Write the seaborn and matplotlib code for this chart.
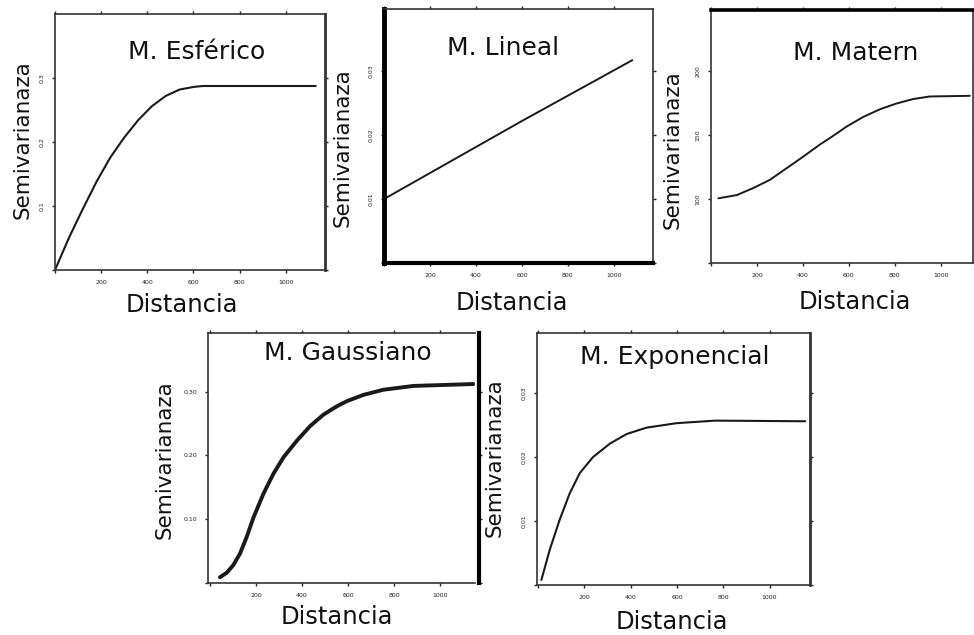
import matplotlib
matplotlib.use("Agg")
import matplotlib.pyplot as plt
import seaborn as sns
import pandas as pd

sns.set_theme(style="ticks")
plt.rcParams["font.family"] = ["DejaVu Sans"]

# ---------------- data ----------------
titles = ["M. Esférico", "M. Lineal", "M. Matern", "M. Gaussiano", "M. Exponencial"]
x_label = "Distancia"
y_label = "Semivarianaza"
x_tick_values = [200, 400, 600, 800, 1000]
x_tick_labels = ["200", "400", "600", "800", "1000"]
y_tick_values = [1, 2, 3]
y_tick_labels_esferico = ["0.1", "0.2", "0.3"]
y_tick_labels_lineal = ["0.01", "0.02", "0.03"]
y_tick_labels_matern = ["100", "150", "200"]
y_tick_labels_gaussiano = ["0.10", "0.20", "0.30"]
y_tick_labels_exponencial = ["0.01", "0.02", "0.03"]

esferico_dist = [0, 30, 60, 120, 180, 240, 300, 360, 420, 480, 540, 600, 640, 1130]
esferico_gamma = [0.0, 0.25, 0.50, 0.95, 1.38, 1.76, 2.07, 2.34, 2.56, 2.72, 2.82, 2.86, 2.875, 2.875]

lineal_dist = [10, 600, 1080]
lineal_gamma = [1.02, 2.22, 3.17]

matern_dist = [32, 112, 184, 257, 329, 401, 474, 517, 554, 590, 662, 735, 807, 880, 952, 1126]
matern_gamma = [1.01, 1.06, 1.17, 1.30, 1.48, 1.66, 1.85, 1.95, 2.04, 2.13, 2.28, 2.40, 2.49, 2.56, 2.60, 2.61]

gauss_dist = [43, 72, 101, 130, 159, 188, 232, 275, 319, 377, 435, 493, 551, 594, 667, 753, 884, 1145]
gauss_gamma = [0.09, 0.16, 0.28, 0.46, 0.72, 1.02, 1.40, 1.71, 1.97, 2.23, 2.46, 2.64, 2.77, 2.85, 2.95, 3.03, 3.09, 3.12]

expo_dist = [14, 50, 93, 136, 180, 237, 310, 382, 468, 598, 765, 1154]
expo_gamma = [0.08, 0.55, 1.02, 1.43, 1.75, 2.00, 2.21, 2.36, 2.46, 2.53, 2.57, 2.56]

# ---------------- layout ----------------
W, H = 974, 635
fig = plt.figure(figsize=(W / 100, H / 100), dpi=100)
fig.patch.set_facecolor("white")


def add_ax(l, t, r, b):
    return fig.add_axes([l / W, 1 - b / H, (r - l) / W, (b - t) / H])


def ftext(x, y, s, **kw):
    fig.text(x / W, 1 - y / H, s, ha="center", va="center", color="#111111", **kw)


panels = [
    dict(box=(55, 14, 325, 270), xlim=(0, 1170), ylim=(0, 4.0),
         dist=esferico_dist, gamma=esferico_gamma, ylabels=y_tick_labels_esferico,
         lw=1.5, title_xy=(197, 52), ylab_xy=(23, 140), xlab_xy=(182, 305)),
    dict(box=(384, 9, 653, 263), xlim=(10, 1170), ylim=(0, 3.97),
         dist=lineal_dist, gamma=lineal_gamma, ylabels=y_tick_labels_lineal,
         lw=1.4, title_xy=(503, 48), ylab_xy=(343, 148), xlab_xy=(512, 303)),
    dict(box=(711, 10, 973, 263), xlim=(0, 1140), ylim=(0, 3.95),
         dist=matern_dist, gamma=matern_gamma, ylabels=y_tick_labels_matern,
         lw=1.4, title_xy=(856, 53), ylab_xy=(673, 150), xlab_xy=(855, 302)),
    dict(box=(208, 333, 475, 583), xlim=(-9, 1152), ylim=(0, 3.92),
         dist=gauss_dist, gamma=gauss_gamma, ylabels=y_tick_labels_gaussiano,
         lw=2.8, title_xy=(348, 353), ylab_xy=(165, 460), xlab_xy=(337, 617)),
    dict(box=(537, 333, 810, 585), xlim=(-5, 1175), ylim=(0, 3.94),
         dist=expo_dist, gamma=expo_gamma, ylabels=y_tick_labels_exponencial,
         lw=1.5, title_xy=(675, 357), ylab_xy=(495, 458), xlab_xy=(672, 622)),
]

axes = []
for i, p in enumerate(panels):
    ax = add_ax(*p["box"])
    axes.append(ax)
    df = pd.DataFrame({"d": p["dist"], "g": p["gamma"]})
    sns.lineplot(data=df, x="d", y="g", ax=ax, color="#1a1a1a",
                 linewidth=p["lw"], estimator=None, sort=False)
    ax.set_xlim(*p["xlim"])
    ax.set_ylim(*p["ylim"])
    ax.set_xlabel("")
    ax.set_ylabel("")
    ax.set_xticks([0] + x_tick_values)
    ax.set_xticklabels([""] + x_tick_labels)
    ax.set_yticks([0] + y_tick_values)
    ax.set_yticklabels([""] + p["ylabels"], rotation=90, va="center")
    ax.tick_params(axis="both", which="both", direction="out", length=2.5, width=1.0,
                   colors="#222222", labelsize=4.5, pad=5,
                   top=True, right=True, labeltop=False, labelright=False)
    for s in ax.spines.values():
        s.set_visible(True)
        s.set_color("#333333")
        s.set_linewidth(1.2)
    ax.set_facecolor("white")
    ax.grid(False)
    ftext(*p["title_xy"], titles[i], fontsize=18)
    ftext(*p["ylab_xy"], y_label, fontsize=15.5, rotation=90)
    ftext(*p["xlab_xy"], x_label, fontsize=17.5)

# scan artefacts: some frame edges appear heavier
axes[0].spines["right"].set_linewidth(2.0)
axes[1].spines["left"].set_linewidth(3.5)
axes[1].spines["left"].set_color("black")
axes[1].spines["bottom"].set_linewidth(3.0)
axes[1].spines["bottom"].set_color("black")
axes[2].spines["top"].set_linewidth(2.6)
axes[2].spines["top"].set_color("black")
axes[3].spines["right"].set_linewidth(3.0)
axes[3].spines["right"].set_color("black")
axes[3].spines["right"].set_position(("outward", 3))
axes[4].spines["right"].set_linewidth(2.0)

fig.savefig("out.png", dpi=100, facecolor="white")
